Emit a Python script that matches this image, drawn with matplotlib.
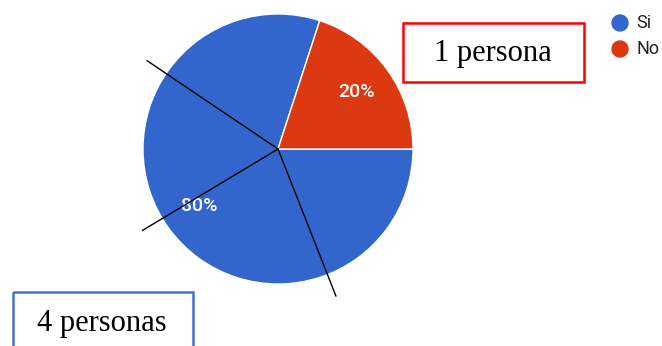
import matplotlib.pyplot as plt
from matplotlib.patches import Rectangle, Circle
import numpy as np

# answers to the survey question
labels = ["Si", "No"]
values = [80, 20]
colors = ["#3366CC", "#DC3912"]

# hand drawn divider lines over the "Si" slice (degrees)
divider_angles = [146, 211, 291.5]

# annotation boxes: text, border colour
notes = [("1 persona", "#FF0000"), ("4 personas", "#4472C4")]

W, H = 662, 346
fig = plt.figure(figsize=(W / 100, H / 100), dpi=100)

# pie axes placed in pixels: centre (278, 149), radius 135
cx, cy, r = 278, 149, 135
ax = fig.add_axes([(cx - r) / W, (H - cy - r) / H, 2 * r / W, 2 * r / H])
wedges, texts, autotexts = ax.pie(
    values, colors=colors, startangle=72, counterclock=True,
    autopct='%.0f%%', pctdistance=0.72,
    wedgeprops=dict(edgecolor="white", linewidth=1),
    textprops=dict(color="white", fontsize=14, family="Roboto",
                   fontweight="medium"))
ax.set_xlim(-1, 1)
ax.set_ylim(-1, 1)
ax.axis("off")

# the divider lines sit on top of the percentage labels
for a in divider_angles:
    t = np.deg2rad(a)
    ax.plot([0, 1.17 * np.cos(t)], [0, 1.17 * np.sin(t)],
            color="black", linewidth=1, clip_on=False, zorder=5)

# overlay in pixel coords for the boxes and legend
ov = fig.add_axes([0, 0, 1, 1])
ov.set_xlim(0, W)
ov.set_ylim(H, 0)
ov.axis("off")
ov.set_zorder(2)
ov.patch.set_alpha(0)

boxes = [(403, 23, 181, 59), (13, 292, 180, 60)]
for (text, ec), (x, y, w, h) in zip(notes, boxes):
    ov.add_patch(Rectangle((x, y), w, h, fill=False, edgecolor=ec,
                           linewidth=1.8, clip_on=True))
ov.text(493, 54, notes[0][0], ha="center", va="center",
        fontsize=22, family="Liberation Serif")
ov.text(102, 324, notes[1][0], ha="center", va="center",
        fontsize=22, family="Liberation Serif")

# legend
for i, (lab, col) in enumerate(zip(labels, colors)):
    y = 23 + i * 26
    ov.add_patch(Circle((620, y), 8, color=col))
    ov.text(636, y, lab, ha="left", va="center", fontsize=13,
            family="Roboto", color="#222222")

plt.savefig("out.png", dpi=100)
